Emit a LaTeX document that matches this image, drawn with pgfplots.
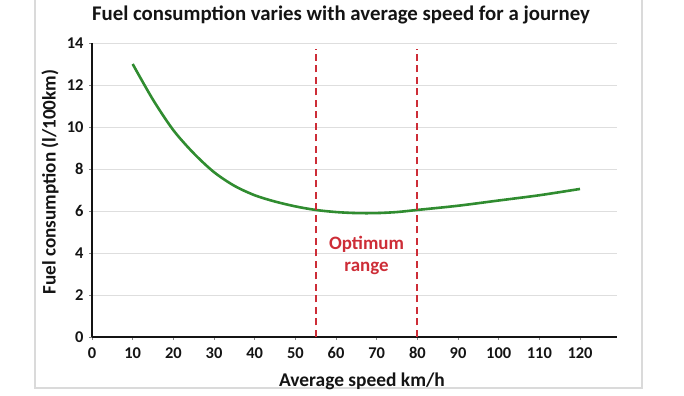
\documentclass[border=0pt]{standalone}
\usepackage{pgfplots}
\pgfplotsset{compat=1.18}
\usepackage{fontspec}
\setmainfont{Carlito}
\definecolor{curvegreen}{RGB}{48,140,48}
\definecolor{optred}{RGB}{205,45,55}
\definecolor{framegray}{RGB}{218,218,218}
\definecolor{gridgray}{RGB}{222,222,222}
\definecolor{txt}{RGB}{20,20,20}
\begin{document}
\begin{tikzpicture}
\path[use as bounding box] (0,0) rectangle (684bp,396bp);
\draw[framegray, line width=1.5bp] (35bp,400bp) -- (35bp,8bp) -- (642bp,8bp) -- (642bp,400bp);
\begin{axis}[
  scale only axis,
  width=524.6bp, height=294bp,
  at={(92bp,59bp)}, anchor=south west,
  xmin=0, xmax=129, ymin=0, ymax=14,
  axis x line=bottom, axis y line=left,
  axis line style={-, line width=1.3bp, txt},
  xtick={0,10,...,120}, ytick={0,2,...,14},
  tick align=outside,
  major tick length=3bp,
  tick style={gray, line width=0.6bp},
  ymajorgrids,
  grid style={gridgray, line width=0.9bp},
  /pgf/number format/assume math mode=true,
  tick label style={font=\bfseries\fontsize{16.5}{16.5}\selectfont, text=txt},
  xticklabel style={yshift=-4bp},
  yticklabel style={xshift=-2bp},
  clip=false,
]
\addplot[curvegreen, line width=2.6bp, smooth] coordinates {
 (10,13.0) (15,11.3) (20,9.85) (25,8.75) (30,7.85) (35,7.2) (40,6.75) (45,6.45)
 (50,6.22) (55,6.05) (60,5.95) (65,5.9) (70,5.9) (75,5.95) (80,6.05) (90,6.25)
 (100,6.5) (110,6.75) (120,7.05)};
\addplot[optred, line width=2bp, dash pattern=on 7bp off 4.5bp] coordinates {(55,0) (55,13.7)};
\addplot[optred, line width=2bp, dash pattern=on 7bp off 4.5bp] coordinates {(80,0) (80,13.7)};
\node[optred, align=center, font=\bfseries\fontsize{19}{22}\selectfont] at (axis cs:67.5,3.9) {Optimum\\range};
\end{axis}
\node[txt, font=\bfseries\fontsize{20.9}{21}\selectfont] at (341bp,381bp) {Fuel consumption varies with average speed for a journey};
\node[txt, font=\bfseries\fontsize{19.5}{19.5}\selectfont] at (362bp,15bp) {Average speed km/h};
\node[txt, rotate=90, font=\bfseries\fontsize{19.2}{19.2}\selectfont] at (50bp,214bp) {Fuel consumption (l/100km)};
\end{tikzpicture}
\end{document}
